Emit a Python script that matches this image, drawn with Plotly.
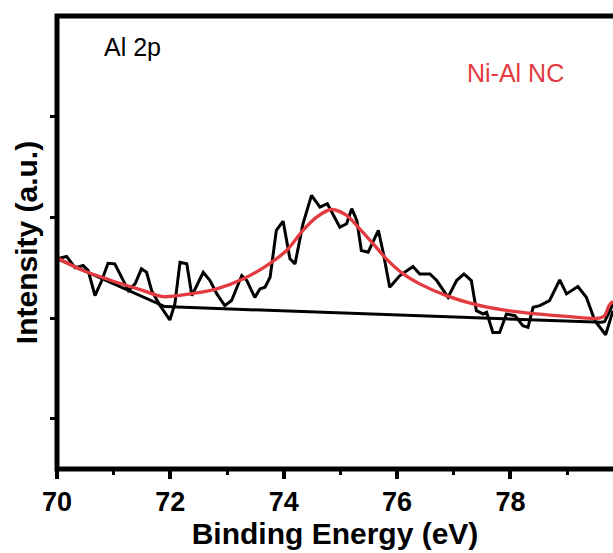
import plotly.graph_objects as go

# Al 2p core-level spectrum: raw counts, fitted envelope and background
energy_raw = [70.00, 70.17, 70.32, 70.46, 70.55, 70.67, 70.79, 70.90, 71.02, 71.14,
              71.26, 71.38, 71.49, 71.58, 71.67, 71.82, 71.99, 72.08, 72.17, 72.29,
              72.38, 72.58, 72.70, 72.82, 72.96, 73.08, 73.26, 73.35, 73.49, 73.58,
              73.67, 73.76, 73.87, 73.99, 74.11, 74.20, 74.34, 74.49, 74.64, 74.77,
              74.99, 75.11, 75.20, 75.29, 75.37, 75.49, 75.67, 75.76, 75.87, 76.05,
              76.28, 76.40, 76.58, 76.70, 76.90, 77.05, 77.18, 77.31, 77.40, 77.52,
              77.58, 77.69, 77.81, 77.93, 78.08, 78.22, 78.31, 78.40, 78.52, 78.69,
              78.87, 78.99, 79.19, 79.34, 79.49, 79.68, 79.81]
intensity_raw = [2588, 2611, 2498, 2521, 2471, 2222, 2372, 2544, 2538, 2405,
                 2272, 2342, 2488, 2454, 2272, 2123, 1980, 2140, 2554, 2538,
                 2222, 2454, 2372, 2239, 2123, 2173, 2422, 2372, 2205, 2289,
                 2305, 2405, 2870, 2962, 2588, 2538, 2936, 3218, 3102, 3135,
                 2902, 2936, 3086, 2969, 2670, 2654, 2870, 2638, 2305, 2422,
                 2511, 2438, 2438, 2372, 2205, 2372, 2438, 2372, 2073, 2040,
                 2056, 1857, 1857, 2040, 2023, 1924, 1907, 2106, 2123, 2173,
                 2379, 2239, 2312, 2205, 1973, 1834, 2073]

energy_fit = [70.00, 70.46, 71.05, 71.52, 71.87, 72.35, 72.82, 73.29, 73.70, 74.05,
              74.34, 74.58, 74.84, 75.11, 75.34, 75.58, 75.81, 76.11, 76.40, 76.87,
              77.34, 77.87, 78.46, 79.05, 79.52, 79.66, 79.74, 79.81]
intensity_fit = [2598, 2471, 2355, 2272, 2212, 2239, 2289, 2389, 2521, 2670,
                 2870, 3002, 3078, 3019, 2886, 2737, 2588, 2438, 2339, 2222,
                 2140, 2080, 2040, 2013, 1996, 2023, 2123, 2166]

energy_bg = [70.00, 71.90, 79.60, 79.66, 79.74, 79.81]
intensity_bg = [2591, 2113, 1957, 1964, 2053, 2143]

x_ticks = [70, 72, 74, 76, 78]
y_ticks = [1000, 2000, 3000, 4000]

FONT = "Arial, Liberation Sans, sans-serif"
RED = "#e33b3f"

fig = go.Figure()
fig.add_trace(go.Scatter(x=energy_bg, y=intensity_bg, mode="lines",
                         line=dict(color="black", width=3), showlegend=False))
fig.add_trace(go.Scatter(x=energy_raw, y=intensity_raw, mode="lines",
                         line=dict(color="black", width=3), showlegend=False))
fig.add_trace(go.Scatter(x=energy_fit, y=intensity_fit, mode="lines",
                         line=dict(color=RED, width=3.3, shape="spline", smoothing=0.8),
                         showlegend=False))

fig.add_annotation(text="Al 2p", xref="paper", yref="paper", x=0.081, y=0.9325,
                   xanchor="left", yanchor="middle", showarrow=False,
                   font=dict(family=FONT, size=25, color="black"))
fig.add_annotation(text="Ni-Al NC", xref="paper", yref="paper", x=0.824, y=0.875,
                   xanchor="center", yanchor="middle", showarrow=False,
                   font=dict(family=FONT, size=25, color=RED))

# Frame: left, bottom and top edges (the right edge runs off the page)
fig.add_shape(type="rect", xref="paper", yref="paper", x0=0, x1=1.05, y0=0, y1=1,
              line=dict(color="black", width=5), fillcolor="rgba(0,0,0,0)",
              layer="above")

fig.update_layout(
    width=613, height=553,
    margin=dict(l=57, r=0, t=16, b=84),
    paper_bgcolor="white", plot_bgcolor="white",
    font=dict(family=FONT, color="black"),
    xaxis=dict(
        range=[70, 79.81], tickvals=x_ticks, ticktext=[str(v) for v in x_ticks],
        showline=False,
        ticks="outside", ticklen=9, tickwidth=4, tickcolor="black",
        minor=dict(dtick=1, tick0=70, ticks="outside", ticklen=5, tickwidth=3,
                   tickcolor="black"),
        tickfont=dict(family=FONT, size=27, color="black", weight="bold"),
        showgrid=False, zeroline=False,
        title=dict(text="<b>Binding Energy (eV)</b>", standoff=4,
                   font=dict(family=FONT, size=30, color="black")),
    ),
    yaxis=dict(
        range=[500, 5000], tickvals=y_ticks, showticklabels=False,
        showline=False,
        ticks="outside", ticklen=6, tickwidth=3, tickcolor="black",
        showgrid=False, zeroline=False,
        title=dict(text="<b>Intensity (a.u.)</b>", standoff=3,
                   font=dict(family=FONT, size=30, color="black")),
    ),
)

fig.write_html("out.html")
